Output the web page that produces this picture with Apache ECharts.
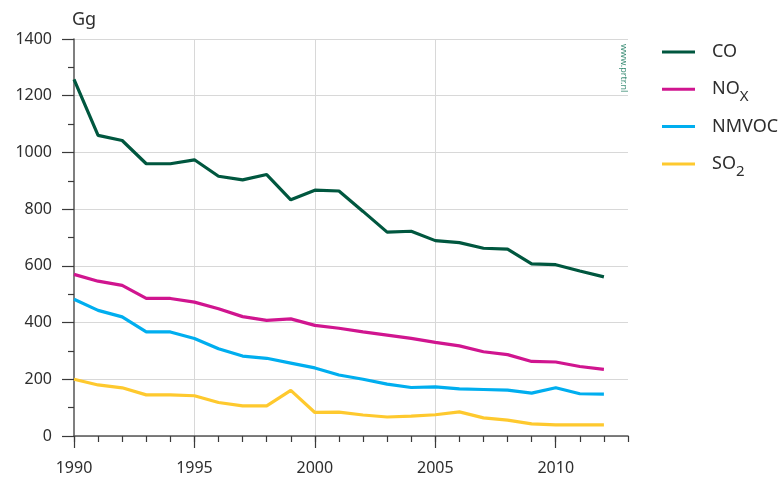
<!DOCTYPE html>
<html>
<head>
<meta charset="utf-8">
<script src="https://cdn.jsdelivr.net/npm/echarts@6/dist/echarts.min.js"></script>
<style>
html,body{margin:0;padding:0;background:#fff;}
#chart{width:782px;height:479px;}
</style>
</head>
<body>
<div id="chart"></div>
<script>
const years = [1990,1991,1992,1993,1994,1995,1996,1997,1998,1999,2000,2001,2002,2003,2004,2005,2006,2007,2008,2009,2010,2011,2012];
const co    = [1258,1060,1042,960,960,974,916,903,922,833,867,864,792,719,722,689,682,662,659,607,604,582,561];
const nox   = [570,546,531,485,485,472,449,421,408,413,390,380,367,356,344,330,318,297,287,263,261,245,235];
const nmvoc = [482,443,420,367,367,344,308,282,274,257,240,215,200,183,171,173,166,164,162,151,170,149,148];
const so2   = [200,180,170,145,145,142,118,106,106,161,83,84,74,67,70,75,85,64,56,43,39,39,39];
const seriesNames = ['CO','NOx','NMVOC','SO2'];
const yTicks = [0,200,400,600,800,1000,1200,1400];
const xLabelYears = [1990,1995,2000,2005,2010];

const colors = ['#00573f','#d0158f','#00aeef','#fec92e'];
const font = 'Noto Sans';
const textColor = '#2e2e2e';

function pairs(vals){ return years.map((y,i)=>[y, vals[i]]); }

const chart = echarts.init(document.getElementById('chart'), null, {renderer:'canvas'});
const legendLabels = {CO:'CO', NOx:'{n|NO}{s|X}', NMVOC:'NMVOC', SO2:'{n|SO}{s|2}'};

chart.setOption({
  animation:false,
  color: colors,
  grid:{left:74, right:154, top:39, bottom:43, containLabel:false},
  xAxis:[{
    type:'value', min:1990, max:2013, interval:1, position:'bottom',
    axisLine:{show:true, lineStyle:{color:'#555', width:1.5}},
    axisTick:{show:true, length:6, lineStyle:{color:'#3a3a3a', width:1.2}},
    axisLabel:{show:true, margin:24, fontFamily:font, fontSize:16, color:textColor,
      customValues: xLabelYears, formatter: v => String(v)},
    splitLine:{show:false}
  },{
    type:'value', min:1990, max:2013, interval:5, position:'bottom',
    axisLine:{show:false},
    axisTick:{show:true, length:12, customValues: xLabelYears, lineStyle:{color:'#3a3a3a', width:1.2}},
    axisLabel:{show:false},
    splitLine:{show:true, showMinLine:false, showMaxLine:false, lineStyle:{color:'#d8d8d8', width:1}}
  }],
  yAxis:{
    type:'value', min:0, max:1400, interval:200,
    name:'Gg', nameLocation:'end', nameGap:10,
    nameTextStyle:{fontFamily:font, fontSize:18, color:textColor, align:'left', padding:[0,0,0,-2]},
    axisLine:{show:true, lineStyle:{color:'#555', width:1.5}},
    axisTick:{show:true, length:12, lineStyle:{color:'#3a3a3a', width:1.2}},
    minorTick:{show:true, splitNumber:2, length:6, lineStyle:{color:'#3a3a3a', width:1.2}},
    axisLabel:{margin:22, fontFamily:font, fontSize:16, color:textColor,
      customValues: yTicks, formatter: v => String(v)},
    splitLine:{show:true, lineStyle:{color:'#d8d8d8', width:1}}
  },
  legend:{
    orient:'vertical', left:662, top:37, padding:0, itemWidth:33, itemHeight:3, itemGap:7.3,
    icon:'rect',
    data: seriesNames,
    formatter: name => legendLabels[name],
    textStyle:{fontFamily:font, fontSize:18, color:textColor, lineHeight:30, padding:[0,0,0,12],
      rich:{
        n:{fontFamily:font, fontSize:18, color:textColor, lineHeight:30},
        s:{fontFamily:font, fontSize:15, color:textColor, lineHeight:6, verticalAlign:'bottom'}
      }
    }
  },
  graphic:[{
    type:'text', left:619, top:44, rotation:-Math.PI/2,
    style:{text:'www.prtr.nl', fontFamily:font, fontSize:9, fill:'#3f8f78'}
  }],
  series:[
    {name:'CO', type:'line', data:pairs(co)},
    {name:'NOx', type:'line', data:pairs(nox)},
    {name:'NMVOC', type:'line', data:pairs(nmvoc)},
    {name:'SO2', type:'line', data:pairs(so2)}
  ].map(s => Object.assign(s, {showSymbol:false, symbol:'none', lineStyle:{width:3.2}, emphasis:{disabled:true}}))
});
</script>
</body>
</html>
